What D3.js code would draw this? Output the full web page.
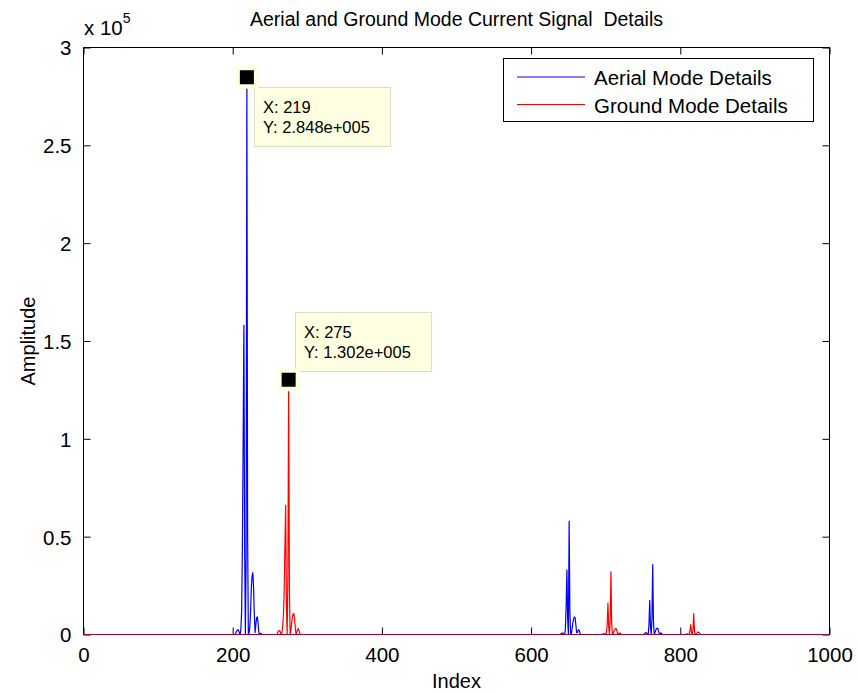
<!DOCTYPE html>
<html>
<head>
<meta charset="utf-8">
<script src="https://cdn.jsdelivr.net/npm/d3@7/dist/d3.min.js"></script>
<style>
  html, body { margin: 0; padding: 0; background: #fff; }
  svg text { font-family: "Liberation Sans", Arial, Helvetica, sans-serif; fill: #000; white-space: pre; }
</style>
</head>
<body>
<svg id="chart" width="858" height="693"></svg>
<script>
// Sample range of both signals (samples outside the listed bursts are zero)
const indexRange = [1, 1000];

// Aerial mode detail coefficients, in units of 1e5, listed burst by burst
const aerialBurst1Start = 203;
const aerialBurst1 = [0, 0.006, 0.015, 0.022, 0.025, 0.02, 0.008, 0, 0.03, 0.12, 0.45, 1.0, 1.58, 0.45, 0, 0.4, 2.848, 0.5, 0, 0.01, 0.04, 0.12, 0.24, 0.30, 0.316, 0.24, 0.1, 0.01, 0.05, 0.085, 0.09, 0.06, 0.01, 0, 0.005, 0.006, 0];
const aerialBurst2Start = 639;
const aerialBurst2 = [0, 0.003, 0.006, 0.008, 0.006, 0.002, 0, 0.03, 0.15, 0.33, 0.08, 0, 0.58, 0.12, 0, 0.005, 0.03, 0.06, 0.08, 0.09, 0.085, 0.05, 0.01, 0.01, 0.02, 0.025, 0.015, 0];
const aerialBurst3Start = 751;
const aerialBurst3 = [0, 0.004, 0.008, 0.01, 0.007, 0.002, 0, 0.05, 0.175, 0.04, 0, 0.08, 0.357, 0.07, 0, 0.008, 0.02, 0.03, 0.032, 0.03, 0.015, 0.002, 0.004, 0.008, 0.006, 0];

// Ground mode detail coefficients, in units of 1e5
const groundBurst1Start = 259;
const groundBurst1 = [0, 0.006, 0.015, 0.02, 0.02, 0.012, 0, 0.01, 0.04, 0.1, 0.22, 0.45, 0.66, 0.15, 0, 0.3, 1.302, 0.25, 0, 0.02, 0.06, 0.09, 0.105, 0.107, 0.08, 0.03, 0, 0.012, 0.025, 0.03, 0.02, 0.005, 0];
const groundBurst2Start = 695;
const groundBurst2 = [0, 0.002, 0.004, 0.005, 0.003, 0, 0.01, 0.05, 0.16, 0.04, 0, 0.07, 0.32, 0.06, 0, 0.005, 0.015, 0.025, 0.03, 0.03, 0.02, 0.005, 0.003, 0.006, 0.008, 0.004, 0];
const groundBurst3Start = 807;
const groundBurst3 = [0, 0.002, 0.003, 0.002, 0, 0.005, 0.02, 0.05, 0.01, 0, 0.02, 0.107, 0.02, 0, 0.002, 0.006, 0.01, 0.012, 0.011, 0.006, 0.001, 0];

const ampScale = 1e5;

// Axis ticks
const xTicks = [0, 200, 400, 600, 800, 1000];
const yTicks = [0, 0.5, 1, 1.5, 2, 2.5, 3];

// Data cursors placed on the two largest peaks
const cursorIndices = [219, 275];

const legendLabels = ["Aerial Mode Details", "Ground Mode Details"];
const seriesColors = ["#0000ff", "#ff0000"];

function buildSeries(bursts) {
  const pts = [[indexRange[0], 0]];
  bursts.forEach(([start, vals]) => {
    vals.forEach((v, i) => pts.push([start + i, v * ampScale]));
  });
  pts.push([indexRange[1], 0]);
  return pts;
}

const aerial = buildSeries([[aerialBurst1Start, aerialBurst1], [aerialBurst2Start, aerialBurst2], [aerialBurst3Start, aerialBurst3]]);
const ground = buildSeries([[groundBurst1Start, groundBurst1], [groundBurst2Start, groundBurst2], [groundBurst3Start, groundBurst3]]);

const svg = d3.select("#chart");
const plot = { left: 83.5, right: 829.5, top: 47.5, bottom: 634.5 };

const x = d3.scaleLinear().domain([0, 1000]).range([plot.left, plot.right]);
const y = d3.scaleLinear().domain([0, 3 * ampScale]).range([plot.bottom, plot.top]);

svg.append("rect").attr("width", 858).attr("height", 693).attr("fill", "#fff");

// Title and axis labels
svg.append("text").attr("x", (plot.left + plot.right) / 2).attr("y", 26)
  .attr("text-anchor", "middle").style("font-size", "19.5px")
  .text("Aerial and Ground Mode Current Signal  Details");
svg.append("text").attr("x", (plot.left + plot.right) / 2).attr("y", 688)
  .attr("text-anchor", "middle").style("font-size", "20px").text("Index");
svg.append("text").attr("transform", `translate(35,${(plot.top + plot.bottom) / 2}) rotate(-90)`)
  .attr("text-anchor", "middle").style("font-size", "20px").text("Amplitude");

// Axes: bottom/left with labels, top/right mirrored tick marks only
const tickLen = 7;
const fmtY = d => d3.format("~g")(d);

const gx = svg.append("g").attr("transform", `translate(0,${plot.bottom})`)
  .call(d3.axisBottom(x).tickValues(xTicks).tickSizeInner(-tickLen).tickSizeOuter(0).tickPadding(13)
    .tickFormat(d3.format("d")));
const gxTop = svg.append("g").attr("transform", `translate(0,${plot.top})`)
  .call(d3.axisTop(x).tickValues(xTicks).tickSizeInner(-tickLen).tickSizeOuter(0).tickFormat(""));
const gy = svg.append("g").attr("transform", `translate(${plot.left},0)`)
  .call(d3.axisLeft(y).tickValues(yTicks.map(v => v * ampScale)).tickSizeInner(-tickLen).tickSizeOuter(0).tickPadding(12)
    .tickFormat(d => fmtY(d / ampScale)));
const gyRight = svg.append("g").attr("transform", `translate(${plot.right},0)`)
  .call(d3.axisRight(y).tickValues(yTicks.map(v => v * ampScale)).tickSizeInner(-tickLen).tickSizeOuter(0).tickFormat(""));

[gx, gxTop, gy, gyRight].forEach(g => {
  g.select(".domain").remove();
  g.selectAll(".tick line").attr("stroke", "#000").attr("stroke-width", 1);
  g.selectAll(".tick text").style("font-size", "20.5px").attr("font-family", null);
});
gx.selectAll(".tick text").attr("dy", "0.71em");
gy.selectAll(".tick text").attr("dy", "0.36em");

// Exponent note above the y axis
const expo = svg.append("text").attr("x", 84).attr("y", 35).style("font-size", "20.5px");
expo.append("tspan").text("x 10");
expo.append("tspan").attr("dy", -12).style("font-size", "14px").text("5");

// Signal lines
const line = d3.line().x(d => x(d[0])).y(d => y(d[1]));
[aerial, ground].forEach((series, i) => {
  svg.append("path").datum(series)
    .attr("fill", "none").attr("stroke", seriesColors[i]).attr("stroke-width", 1.2)
    .attr("stroke-linejoin", "round").attr("d", line);
});

// Axes box
svg.append("rect").attr("x", plot.left).attr("y", plot.top)
  .attr("width", plot.right - plot.left).attr("height", plot.bottom - plot.top)
  .attr("fill", "none").attr("stroke", "#000").attr("stroke-width", 1);
// signal baselines drawn over the bottom edge
svg.append("line").attr("x1", plot.left).attr("x2", plot.right)
  .attr("y1", plot.bottom).attr("y2", plot.bottom)
  .attr("stroke", "#a00038").attr("stroke-width", 1.2);

// Legend
const lg = svg.append("g");
lg.append("rect").attr("x", 503.5).attr("y", 58.5).attr("width", 310).attr("height", 63)
  .attr("fill", "#fff").attr("stroke", "#000").attr("stroke-width", 1);
legendLabels.forEach((lab, i) => {
  const yy = 77 + i * 27.5;
  lg.append("line").attr("x1", 517).attr("x2", 585).attr("y1", yy).attr("y2", yy)
    .attr("stroke", seriesColors[i]).attr("stroke-width", 1);
  lg.append("text").attr("x", 594).attr("y", yy + 8).style("font-size", "20.5px").text(lab);
});

// Data cursors
function matlabExp(v) {
  const s = v.toExponential(3);
  const [m, e] = s.split("e");
  const sign = e[0] === "-" ? "-" : "+";
  const digits = e.replace(/[+-]/, "").padStart(3, "0");
  return `${m}e${sign}${digits}`;
}
const tipOffsets = [[7.5, 9.5], [6.7, -67.4]];
cursorIndices.forEach((idx, i) => {
  const series = i === 0 ? aerial : ground;
  const pt = series.find(d => d[0] === idx);
  const px = x(pt[0]), py = y(pt[1]);
  const g = svg.append("g");
  const bx = Math.round(px + tipOffsets[i][0]) + 0.5, by = Math.round(py + tipOffsets[i][1]) + 0.5;
  g.append("rect").attr("x", bx).attr("y", by).attr("width", 136).attr("height", 59)
    .attr("fill", "#ffffe1").attr("stroke", "#dcdcc8").attr("stroke-width", 1);
  g.append("text").attr("x", bx + 8.5).attr("y", by + 25).style("font-size", "16.5px").text(`X: ${idx}`);
  g.append("text").attr("x", bx + 8.5).attr("y", by + 45).style("font-size", "16.5px").text(`Y: ${matlabExp(pt[1])}`);
  g.append("rect").attr("x", px - 11.5).attr("y", py - 11.5).attr("width", 23).attr("height", 23)
    .attr("fill", "#ffffe1");
  g.append("rect").attr("x", px - 7).attr("y", py - 7).attr("width", 14).attr("height", 14)
    .attr("fill", "#000");
});
</script>
</body>
</html>
